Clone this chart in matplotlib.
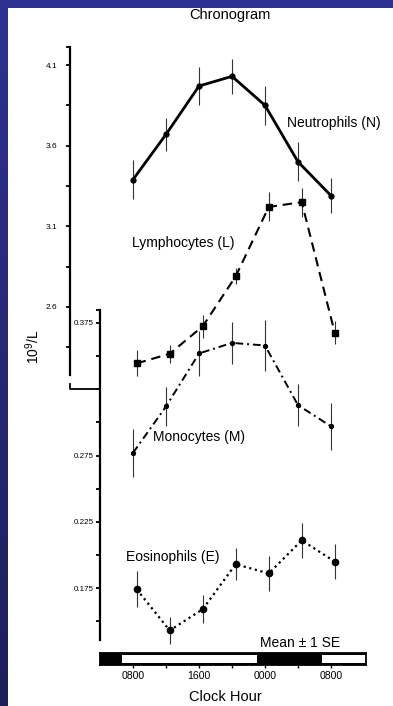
import numpy as np
import matplotlib
matplotlib.use("Agg")
import matplotlib.pyplot as plt
from matplotlib.lines import Line2D

plt.rcParams['font.family'] = ['Liberation Sans', 'DejaVu Sans']
plt.rcParams['mathtext.default'] = 'regular'

# sampling times (clock hour, 08:00 day 1 .. 08:00 day 2)
hours = [8, 12, 16, 20, 24, 28, 32]
hour_labels = ['0800', '', '1600', '', '0000', '', '0800']

# blood counts, 10^9/L, mean and SE
neut = [3.39, 3.67, 3.97, 4.03, 3.85, 3.50, 3.29]
neut_se = [0.12, 0.10, 0.12, 0.11, 0.12, 0.12, 0.11]
lymph = [2.25, 2.31, 2.48, 2.79, 3.22, 3.25, 2.44]
lymph_se = [0.08, 0.055, 0.07, 0.05, 0.09, 0.09, 0.07]
mono = [0.277, 0.312, 0.352, 0.360, 0.358, 0.313, 0.297]
mono_se = [0.018, 0.015, 0.017, 0.016, 0.019, 0.016, 0.018]
eos = [0.174, 0.143, 0.159, 0.193, 0.186, 0.211, 0.195]
eos_se = [0.0135, 0.010, 0.0105, 0.012, 0.013, 0.013, 0.013]

# light periods of the light/dark bar (hours)
light_on = [6.7, 30.9]
light_off = [23.0, 36.24]

W, H = 393, 706
STAGGER = 0.45  # small horizontal shift for L and E so bars don't overlap


def box(l, t, r, b):
    return [l / W, 1 - b / H, (r - l) / W, (b - t) / H]


def fx(x):
    return x / W


def fy(y):
    return 1 - y / H


def series(ax, x, y, se, **kw):
    x = np.asarray(x, float)
    y = np.asarray(y, float)
    se = np.asarray(se, float)
    ax.vlines(x, y - se, y + se, color='#333333', lw=0.8, clip_on=False, zorder=2)
    ax.plot(x, y, color='black', clip_on=False, zorder=3, **kw)


fig = plt.figure(figsize=(W / 100, H / 100), dpi=100)
fig.patch.set_facecolor('white')

# blue frame on the left and top
bg = fig.add_axes([0, 0, 1, 1], zorder=-10)
bg.set_xlim(0, W)
bg.set_ylim(H, 0)
bg.axis('off')
top_c = np.array([46, 49, 146]) / 255
bot_c = np.array([30, 30, 90]) / 255
grad = np.linspace(0, 1, 200)[:, None, None]
strip = top_c * (1 - grad) + bot_c * grad
bg.imshow(strip, extent=(0, 8, H, 0), aspect='auto')
bg.add_patch(plt.Rectangle((0, 0), W, 8, color=top_c, lw=0))

# upper axis: neutrophils and lymphocytes
ax_n = fig.add_axes(box(70, 47, 366, 375))
ax_n.set_xlim(0.364, 36.24)
ax_n.set_ylim(2.178, 4.212)
# lower axis: monocytes and eosinophils
ax_m = fig.add_axes(box(100, 310, 366, 640))
ax_m.set_xlim(4.0, 36.24)
ax_m.set_ylim(0.1358, 0.3848)

for ax in (ax_n, ax_m):
    ax.patch.set_visible(False)
    for s in ('top', 'right', 'bottom'):
        ax.spines[s].set_visible(False)
    ax.spines['left'].set_linewidth(1.6)
    ax.set_xticks([])
    ax.tick_params(axis='y', which='both', direction='out', length=3.2,
                   width=1.3, labelsize=6)

ax_n.set_yticks([2.6, 3.1, 3.6, 4.1])
ax_n.set_yticklabels(['2.6', '3.1', '3.6', '4.1'])
ax_n.set_yticks([2.35, 2.85, 3.35, 3.85, 4.212], minor=True)
ax_n.tick_params(axis='y', pad=6)

m_ticks = [0.15, 0.175, 0.2, 0.225, 0.25, 0.275, 0.3, 0.325, 0.35, 0.375, 0.3848]
m_labels = ['', '0.175', '', '0.225', '', '0.275', '', '', '', '0.375', '']
ax_m.set_yticks(m_ticks)
ax_m.set_yticklabels(m_labels)
ax_m.tick_params(axis='y', pad=1, labelsize=5.8)

series(ax_n, hours, neut, neut_se, lw=2.0, marker='o', ms=3.5)
series(ax_n, np.array(hours) + STAGGER, lymph, lymph_se, lw=1.5,
       dashes=(4.5, 2.8), marker='s', ms=4.2)
series(ax_m, hours, mono, mono_se, lw=1.4, dashes=(4, 2, 1, 2),
       marker='o', ms=2.8)
series(ax_m, np.array(hours) + STAGGER, eos, eos_se, lw=1.6,
       linestyle=(0, (1, 1.6)), marker='o', ms=4.5)

# break bracket joining the two scales
fig.add_artist(Line2D([fx(70), fx(70), fx(100)], [fy(384), fy(389), fy(389)],
                      color='black', lw=1.3))

# light/dark bar with clock hours
ax_b = fig.add_axes(box(100, 653, 366, 665))
ax_b.set_xlim(4.0, 36.24)
ax_b.set_ylim(0, 1)
ax_b.set_facecolor('black')
for s in ax_b.spines.values():
    s.set_linewidth(1.3)
for on, off in zip(light_on, light_off):
    ax_b.axvspan(on, off, ymin=0.2, ymax=0.8, color='white', lw=0)
ax_b.set_yticks([])
ax_b.set_xticks(hours)
ax_b.set_xticklabels(hour_labels)
ax_b.tick_params(axis='x', direction='out', length=2.5, width=1.0,
                 labelsize=7.6, pad=2)

# text
fig.text(fx(230), fy(15), 'Chronogram', ha='center', va='center', fontsize=10.5)
fig.text(fx(287), fy(123), 'Neutrophils (N)', ha='left', va='center', fontsize=10)
fig.text(fx(132), fy(243), 'Lymphocytes (L)', ha='left', va='center', fontsize=10)
fig.text(fx(153), fy(437), 'Monocytes (M)', ha='left', va='center', fontsize=10)
fig.text(fx(126), fy(557), 'Eosinophils (E)', ha='left', va='center', fontsize=10)
fig.text(fx(300), fy(643), 'Mean \u00b1 1 SE', ha='center', va='center', fontsize=10)
fig.text(fx(33), fy(347), '10$^9$/L', ha='center', va='center', rotation=90,
         fontsize=10)
fig.text(fx(225), fy(697), 'Clock Hour', ha='center', va='center', fontsize=10.5)

fig.savefig('out.png', dpi=100)
